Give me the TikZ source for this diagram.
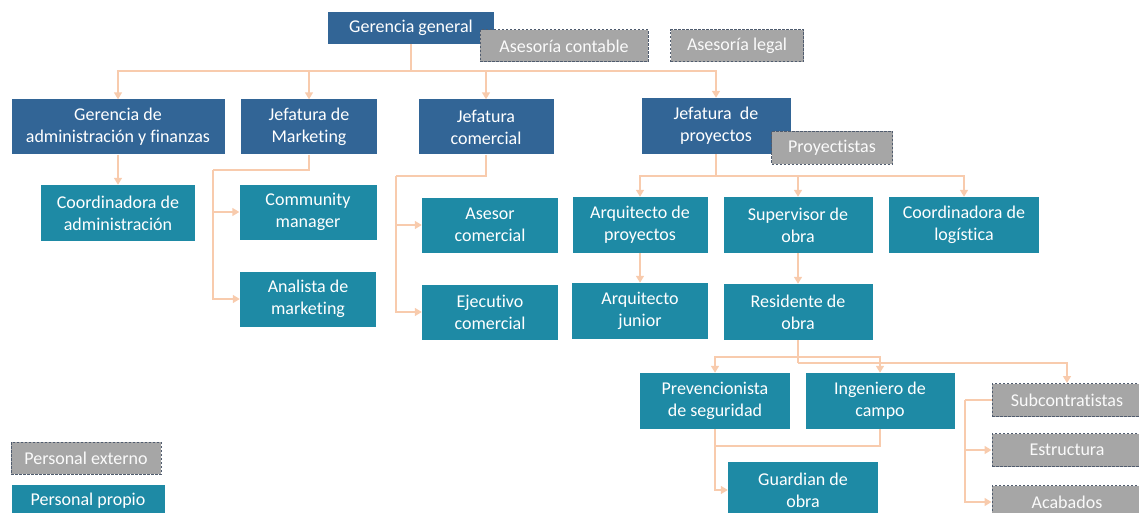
\documentclass[tikz,border=0pt]{standalone}
\usepackage{fontspec}
\setmainfont{Carlito}[Ligatures=CommonOff]
\usetikzlibrary{arrows.meta}
\definecolor{azul}{RGB}{50,101,150}
\definecolor{turquesa}{RGB}{30,138,165}
\definecolor{gris}{RGB}{166,166,166}
\definecolor{borde}{RGB}{80,92,110}
\definecolor{durazno}{RGB}{248,203,173}
\begin{document}
\begin{tikzpicture}[x=1pt,y=-1pt,
  caja/.style={align=center,inner sep=0pt,text=white,font=\fontsize{18}{22}\selectfont},
  jefe/.style={caja,fill=azul},
  propio/.style={caja,fill=turquesa},
  externo/.style={caja,fill=gris,draw=borde,line width=1pt,dash pattern=on 2.5pt off 1.5pt,text=white!94!gris},
  linea/.style={durazno,line width=1.5pt},
  flecha/.style={linea,-{Triangle[width=8pt,length=7pt]}}]
\useasboundingbox (0,0) rectangle (1139,513);
%direccion
\node[jefe,minimum width=166,minimum height=32] (gg) at (411,28) {Gerencia general};
\node[externo,minimum width=168,minimum height=32] (ac) at (564,46) {Asesoría contable};
\node[externo,minimum width=133,minimum height=32] (al) at (737,46) {Asesoría legal};
%jefaturas
\node[jefe,minimum width=213,minimum height=55] (gaf) at (118,127) {Gerencia de\\administración y finanzas};
\node[jefe,minimum width=136,minimum height=55] (jm) at (309,127) {Jefatura de\\Marketing};
\node[jefe,minimum width=135,minimum height=55] (jc) at (486,127) {Jefatura\\comercial};
\node[jefe,minimum width=149,minimum height=56] (jp) at (716,126) {Jefatura~ de\\proyectos};
\node[externo,minimum width=121,minimum height=33] (pry) at (832,148) {Proyectistas};
%admin, marketing y comercial
\node[propio,minimum width=154,minimum height=56] (ca) at (118,213) {Coordinadora de\\administración};
\node[propio,minimum width=137,minimum height=55] (cm) at (308,212) {Community\\manager};
\node[propio,minimum width=136,minimum height=55] (am) at (308,299) {Analista de\\marketing};
\node[propio,minimum width=136,minimum height=55] (asc) at (490,225) {Asesor\\comercial};
\node[propio,minimum width=136,minimum height=55] (ejc) at (490,312) {Ejecutivo\\comercial};
%proyectos
\node[propio,minimum width=135,minimum height=56] (ap) at (640,225) {Arquitecto de\\proyectos};
\node[propio,minimum width=149,minimum height=56] (so) at (798,225) {Supervisor de\\obra};
\node[propio,minimum width=150,minimum height=56] (cl) at (964,225) {Coordinadora de\\logística};
\node[propio,minimum width=136,minimum height=56] (aj) at (640,311) {Arquitecto\\junior};
\node[propio,minimum width=149,minimum height=56] (ro) at (798,312) {Residente de\\obra};
%obra
\node[propio,minimum width=150,minimum height=56] (ps) at (715,401) {Prevencionista\\de seguridad};
\node[propio,minimum width=149,minimum height=56] (ic) at (880,401) {Ingeniero de\\campo};
\node[propio,minimum width=150,minimum height=56] (go) at (803,490) {Guardian de\\obra};
\node[externo,minimum width=150,minimum height=33] (sub) at (1067,400) {Subcontratistas};
\node[externo,minimum width=150,minimum height=33] (est) at (1067,450) {Estructura};
\node[externo,minimum width=150,minimum height=33] (aca) at (1067,502) {Acabados};
%leyenda
\node[externo,minimum width=150,minimum height=32] (pe) at (86,458) {Personal externo};
\node[propio,minimum width=153,minimum height=32] (pp) at (88,501) {Personal propio};
%conectores
\coordinate (bus) at (411,71);
\draw[linea] (gg.south) -- (bus);
\draw[flecha] (bus) -| (gaf.north);
\draw[flecha] (bus) -| (jm.north);
\draw[flecha] (bus) -| (jc.north);
\draw[flecha] (bus) -| (jp.north);
\draw[flecha] (gaf.south) -- (ca.north);
\coordinate (mk) at (213,170);
\draw[linea] (jm.south) |- (mk);
\draw[flecha] (mk) |- (cm.west);
\draw[flecha] (mk) |- (am.west);
\coordinate (cj) at (396,176);
\draw[linea] (jc.south) |- (cj);
\draw[flecha] (cj) |- (asc.west);
\draw[flecha] (cj) |- (ejc.west);
\coordinate (pb) at (716,176);
\draw[linea] (jp.south) -- (pb);
\draw[flecha] (pb) -| (ap.north);
\draw[flecha] (pb) -| (so.north);
\draw[flecha] (pb) -| (cl.north);
\draw[flecha] (ap.south) -- (aj.north);
\draw[flecha] (so.south) -- (ro.north);
\coordinate (r1) at (798,357);
\coordinate (r2) at (798,363);
\draw[linea] (ro.south) -- (r2);
\draw[flecha] (r1) -| (ps.north);
\draw[flecha] (r1) -| (ic.north);
\draw[flecha] (r2) -| (sub.north);
\coordinate (gj) at (715,446);
\draw[linea] (ic.south) |- (gj);
\draw[flecha] (ps.south) |- (go.west);
\coordinate (sj) at (965,400);
\draw[linea] (sub.west) -- (sj);
\draw[flecha] (sj) |- (est.west);
\draw[flecha] (sj) |- (aca.west);
\end{tikzpicture}
\end{document}
